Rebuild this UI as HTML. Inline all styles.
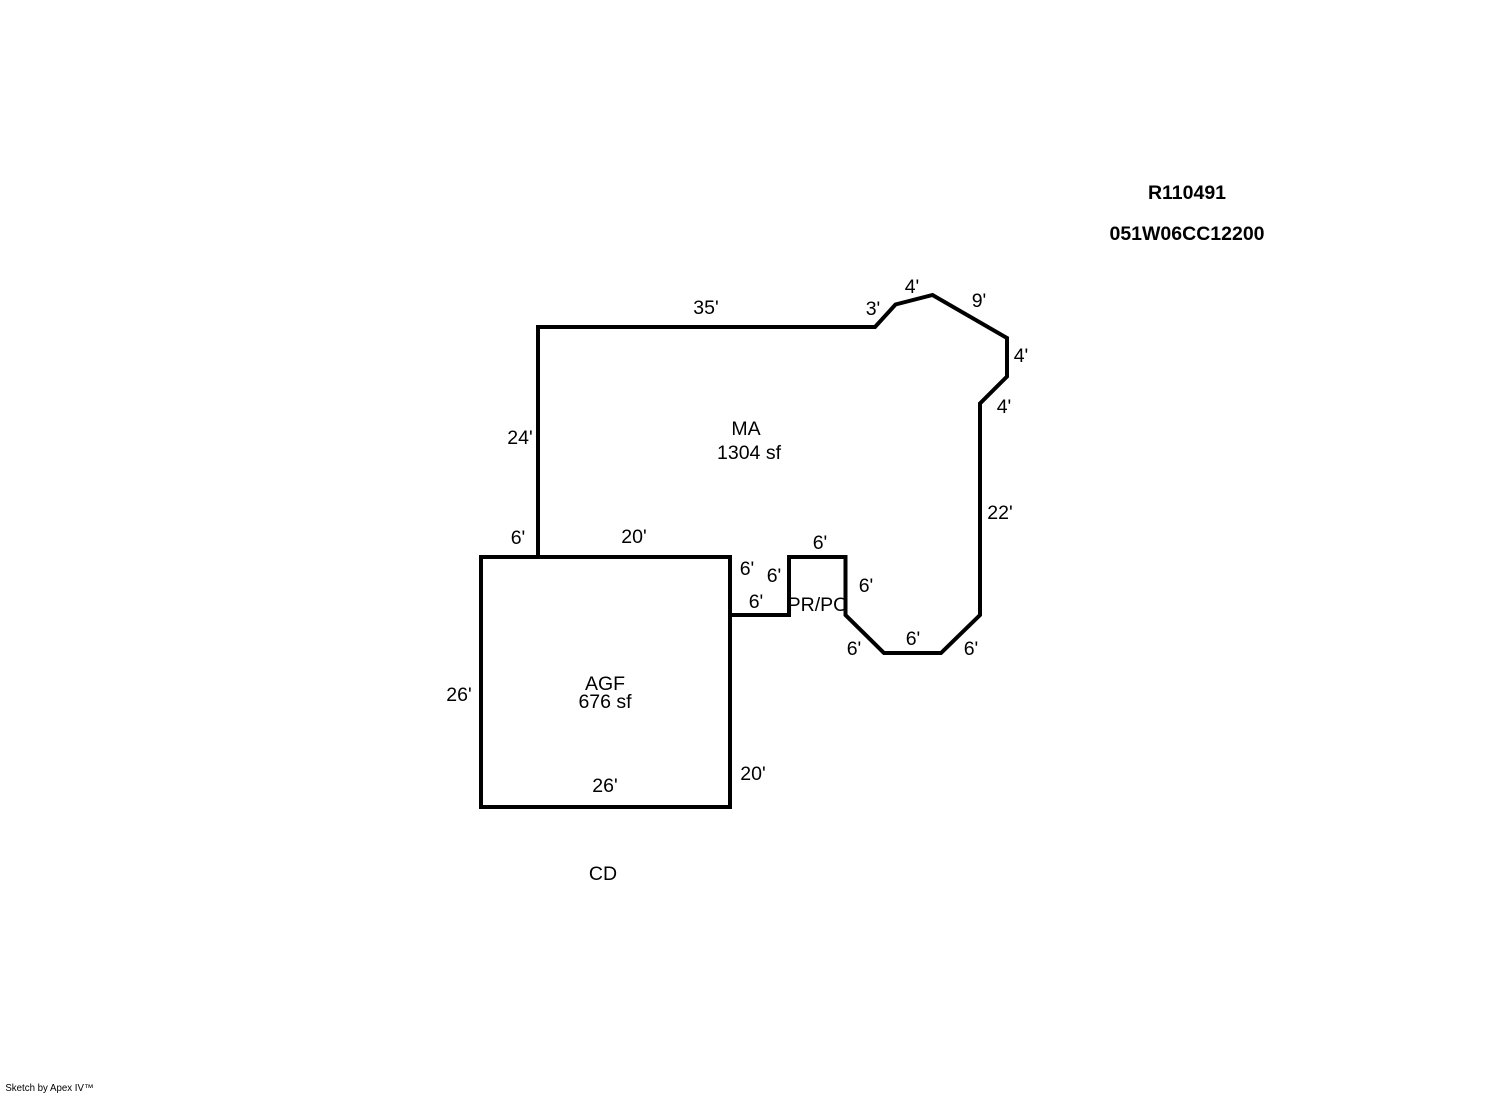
<!DOCTYPE html>
<html>
<head>
<meta charset="utf-8">
<style>
html,body{margin:0;padding:0;background:#fff;width:1492px;height:1094px;overflow:hidden}
svg{display:block}
text{font-family:"Liberation Sans",sans-serif;font-size:19.5px;fill:#000;text-anchor:middle}
.b{font-weight:bold}
</style>
</head>
<body>
<svg width="1492" height="1094" viewBox="0 0 1492 1094" xmlns="http://www.w3.org/2000/svg">
<g fill="none" stroke="#000" stroke-width="4" stroke-linejoin="miter">
<path d="M538 557V327H875L895.5 304.5L932.5 295L1007 338V376.5L980 403.5V615L941 653H884L845.5 615V557H789V615H730"/>
<rect x="481" y="557" width="249" height="250"/>
</g>
<g transform="translate(0 1)">
<text x="706" y="313">35'</text>
<text x="873" y="314">3'</text>
<text x="912" y="292">4'</text>
<text x="979" y="306">9'</text>
<text x="1021" y="361">4'</text>
<text x="1004" y="412">4'</text>
<text x="1000" y="518">22'</text>
<text x="520" y="443">24'</text>
<text x="746" y="434">MA</text>
<text x="749" y="458">1304 sf</text>
<text x="518" y="543">6'</text>
<text x="634" y="542">20'</text>
<text x="747" y="574">6'</text>
<text x="774" y="581">6'</text>
<text x="820" y="548">6'</text>
<text x="866" y="591">6'</text>
<text x="756" y="607">6'</text>
<text x="818" y="610">PR/PO</text>
<text x="854" y="654">6'</text>
<text x="913" y="644">6'</text>
<text x="971" y="654">6'</text>
<text x="459" y="700">26'</text>
<text x="605" y="689">AGF</text>
<text x="605" y="707">676 sf</text>
<text x="605" y="791">26'</text>
<text x="753" y="779">20'</text>
<text x="603" y="879">CD</text>
<text class="b" x="1187" y="198">R110491</text>
<text class="b" x="1187" y="239">051W06CC12200</text>
<text x="49.5" y="1090" style="font-size:9.7px">Sketch by Apex IV™</text>
</g>
</svg>
</body>
</html>
